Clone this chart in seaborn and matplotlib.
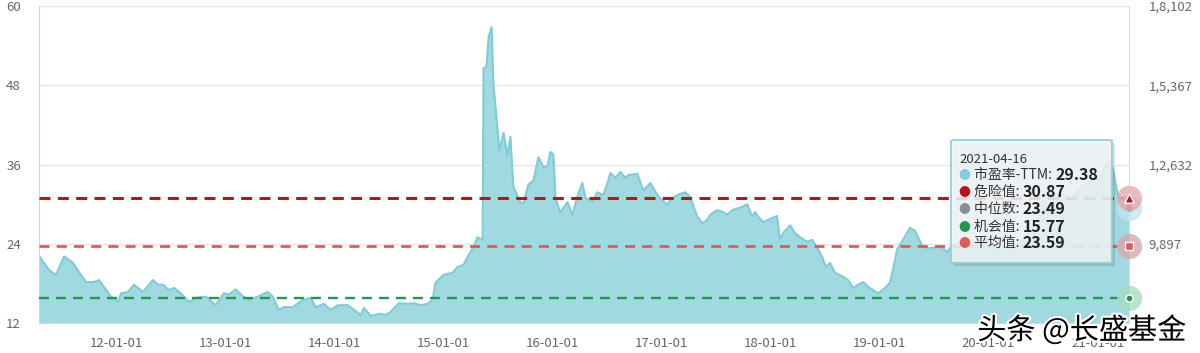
import matplotlib
matplotlib.use("Agg")
import numpy as np
import pandas as pd
import matplotlib.pyplot as plt
import matplotlib.dates as mdates
import matplotlib.patheffects as pe
from matplotlib.patches import FancyBboxPatch, Rectangle
import seaborn as sns

# ----------------------------
# data
# ----------------------------
dates = [
    "2011-04-18", "2011-05-22", "2011-06-14", "2011-07-11", "2011-08-10", "2011-08-30",
    "2011-09-23", "2011-10-19", "2011-11-05", "2011-11-29", "2011-12-15", "2012-01-08",
    "2012-01-18", "2012-02-10", "2012-03-01", "2012-03-31", "2012-05-04", "2012-05-20",
    "2012-06-06", "2012-06-26", "2012-07-13", "2012-08-05", "2012-09-01", "2012-09-25",
    "2012-10-28", "2012-11-30", "2012-12-27", "2013-01-13", "2013-02-05", "2013-03-01",
    "2013-03-21", "2013-04-20", "2013-05-23", "2013-06-09", "2013-06-29", "2013-07-16",
    "2013-08-15", "2013-09-18", "2013-10-14", "2013-10-31", "2013-11-27", "2013-12-20",
    "2014-01-13", "2014-02-15", "2014-03-31", "2014-04-10", "2014-05-03", "2014-06-05",
    "2014-06-22", "2014-07-09", "2014-08-05", "2014-09-04", "2014-09-24", "2014-10-17",
    "2014-11-10", "2014-11-26", "2014-12-06", "2015-01-02", "2015-02-01", "2015-02-18",
    "2015-03-10", "2015-03-23", "2015-04-12", "2015-04-26", "2015-05-13", "2015-05-16",
    "2015-05-26", "2015-06-02", "2015-06-12", "2015-06-18", "2015-07-02", "2015-07-08",
    "2015-07-22", "2015-08-04", "2015-08-14", "2015-08-24", "2015-09-17", "2015-09-27",
    "2015-10-13", "2015-10-30", "2015-11-16", "2015-12-03", "2015-12-16", "2015-12-26",
    "2016-01-05", "2016-01-12", "2016-01-28", "2016-02-21", "2016-03-09", "2016-03-25",
    "2016-04-11", "2016-04-21", "2016-05-15", "2016-05-31", "2016-06-20", "2016-07-04",
    "2016-07-14", "2016-07-31", "2016-08-16", "2016-09-02", "2016-09-12", "2016-10-12",
    "2016-11-01", "2016-11-25", "2016-12-18", "2016-12-28", "2017-01-21", "2017-01-31",
    "2017-02-23", "2017-03-22", "2017-04-07", "2017-05-01", "2017-05-18", "2017-06-03",
    "2017-06-13", "2017-07-07", "2017-07-27", "2017-08-09", "2017-08-26", "2017-09-28",
    "2017-10-15", "2017-11-01", "2017-11-11", "2017-11-21", "2017-12-08", "2018-01-07",
    "2018-01-23", "2018-02-02", "2018-02-12", "2018-03-08", "2018-03-25", "2018-04-10",
    "2018-05-04", "2018-05-20", "2018-06-06", "2018-06-23", "2018-07-06", "2018-07-20",
    "2018-08-05", "2018-09-01", "2018-09-18", "2018-10-05", "2018-10-21", "2018-11-07",
    "2018-11-24", "2018-12-10", "2018-12-27", "2019-01-20", "2019-02-05", "2019-02-15",
    "2019-03-01", "2019-03-21", "2019-04-13", "2019-04-30", "2019-05-10", "2019-05-27",
    "2019-06-19", "2019-07-13", "2019-08-02", "2019-08-15", "2019-09-01", "2019-09-28",
    "2019-10-31", "2019-12-03", "2020-01-01", "2020-02-03", "2020-02-10", "2020-03-01",
    "2020-03-19", "2020-04-10", "2020-05-07", "2020-06-10", "2020-07-03", "2020-07-30",
    "2020-09-01", "2020-10-04", "2020-11-06", "2020-12-09", "2021-01-11", "2021-02-08",
    "2021-02-20", "2021-03-09", "2021-03-25", "2021-04-16",
]
pe_ttm = [
    22.2, 20.0, 19.3, 22.1, 21.1, 19.7,
    18.2, 18.2, 18.5, 17.0, 16.0, 15.2,
    16.5, 16.7, 17.8, 16.7, 18.5, 17.8,
    17.8, 17.0, 17.3, 16.5, 15.2, 15.8,
    16.0, 14.7, 16.5, 16.3, 17.1, 16.0,
    15.5, 16.0, 16.7, 16.0, 14.0, 14.4,
    14.4, 15.5, 15.8, 14.4, 14.9, 14.0,
    14.7, 14.7, 13.2, 14.3, 13.1, 13.4,
    13.2, 13.7, 15.0, 14.9, 15.0, 14.7,
    14.9, 15.5, 18.1, 19.3, 19.6, 20.5,
    20.8, 22.0, 23.5, 25.0, 24.6, 50.6,
    50.8, 55.3, 56.8, 48.3, 41.2, 38.2,
    40.8, 37.4, 40.2, 32.6, 30.2, 30.2,
    32.9, 33.6, 37.1, 35.6, 35.8, 37.9,
    37.5, 31.0, 28.7, 30.3, 28.4, 31.1,
    33.2, 31.0, 30.3, 31.8, 31.4, 33.2,
    34.7, 34.0, 34.9, 34.0, 34.4, 34.6,
    32.1, 33.2, 31.4, 30.9, 29.9, 30.6,
    31.4, 31.8, 31.1, 28.1, 27.1, 27.6,
    28.4, 29.1, 28.8, 28.4, 29.1, 29.6,
    30.0, 28.1, 28.8, 28.1, 27.3, 27.9,
    28.2, 24.6, 25.6, 26.8, 25.6, 25.0,
    24.3, 24.6, 23.5, 22.0, 20.5, 21.1,
    19.6, 19.0, 18.5, 17.3, 17.8, 18.2,
    17.5, 17.0, 16.5, 17.3, 18.1, 20.0,
    23.1, 24.6, 26.4, 26.0, 25.0, 23.5,
    23.3, 23.5, 23.4, 22.7, 23.8, 23.5,
    23.0, 23.8, 25.0, 22.5, 24.5, 25.5,
    22.5, 24.0, 25.0, 27.5, 30.5, 29.5,
    31.5, 30.8, 32.5, 33.5, 34.5, 36.5,
    35.5, 31.5, 30.5, 29.38,
]

danger_val = 30.87
median_val = 23.49
chance_val = 15.77
mean_val = 23.59

left_ticks = [12, 24, 36, 48, 60]
right_ticks = [24, 36, 48, 60]
right_labels = ["9,897", "1,2,632", "1,5,367", "1,8,102"]

tip_date = "2021-04-16"
tip_names = ["市盈率-TTM", "危险值", "中位数", "机会值", "平均值"]
tip_values = [29.38, 30.87, 23.49, 15.77, 23.59]
tip_colors = ["#80ccd8", "#b5121b", "#868e96", "#1e9a50", "#e05a5a"]
watermark = "头条 @长盛基金"

FILL = "#a1d9e0"
LINE = "#80ccd6"
DANGER = "#b8141c"
MEAN = "#e05a5a"
CHANCE = "#1e9a50"
AXIS = "#ccd6eb"
TXT = "#666666"

df = pd.DataFrame({"date": pd.to_datetime(dates), "pe": pe_ttm})

# ----------------------------
# plot
# ----------------------------
sns.set_style("white")
plt.rcParams["font.family"] = ["Noto Sans CJK SC", "DejaVu Sans"]

fig = plt.figure(figsize=(12, 3.53), dpi=100)
ax = fig.add_axes([39 / 1200, 1 - 323 / 353, 1090 / 1200, 317 / 353])

ax.fill_between(df["date"], 12, df["pe"], color=FILL, lw=0, zorder=1)
sns.lineplot(data=df, x="date", y="pe", color=LINE, linewidth=1.5, ax=ax, zorder=2)

ax.axhline(danger_val, color=DANGER, lw=2.2, ls=(0, (3.6, 2.4)), zorder=3)
ax.axhline(mean_val, color=MEAN, lw=2.0, ls=(0, (3.6, 2.6)), zorder=3)
ax.axhline(chance_val, color=CHANCE, lw=1.7, ls=(0, (4.2, 3.0)), zorder=3)

ax.set_xlim(df["date"].iloc[0], df["date"].iloc[-1])
ax.set_ylim(12, 60)
ax.set_yticks(left_ticks)
ax.yaxis.grid(True, color="#e6e6e6", lw=1)
ax.set_axisbelow(True)
ax.xaxis.set_major_locator(mdates.YearLocator())
ax.xaxis.set_major_formatter(mdates.DateFormatter("%y-%m-%d"))
ax.tick_params(axis="x", length=7, width=1, color=AXIS, colors=TXT, labelsize=9.5, pad=3)
ax.tick_params(axis="y", length=0, colors=TXT, labelsize=9.5, pad=13)
for lbl in ax.get_xticklabels():
    lbl.set_color(TXT)
ax.set_xlabel("")
ax.set_ylabel("")
for side in ["left", "bottom"]:
    ax.spines[side].set_color(AXIS)
ax.spines["top"].set_visible(False)
ax.spines["right"].set_color("#d8dde6")

ax2 = ax.twinx()
ax2.set_ylim(12, 60)
ax2.set_yticks(right_ticks)
ax2.set_yticklabels(right_labels)
ax2.tick_params(axis="y", length=0, colors=TXT, labelsize=9.5, pad=14)
for s in ax2.spines.values():
    s.set_visible(False)

# end markers
end = df["date"].iloc[-1]
ax.scatter([end], [tip_values[0]], s=330, color="#bfe6ec", alpha=0.8, lw=0, zorder=5, clip_on=False)
ax.scatter([end], [tip_values[0]], s=22, color="#8a9aa0", lw=0, zorder=6, clip_on=False)
ax.scatter([end], [danger_val], s=330, color="#e5a3a7", alpha=0.75, lw=0, zorder=7, clip_on=False)
ax.scatter([end], [danger_val], s=45, marker="^", color=DANGER, edgecolor="white", lw=1, zorder=8, clip_on=False)
ax.scatter([end], [mean_val], s=330, color="#d4a9ad", alpha=0.8, lw=0, zorder=7, clip_on=False)
ax.scatter([end], [mean_val], s=38, marker="s", color=MEAN, edgecolor="white", lw=1, zorder=8, clip_on=False)
ax.scatter([end], [chance_val], s=330, color="#a9dcc0", alpha=0.8, lw=0, zorder=7, clip_on=False)
ax.scatter([end], [chance_val], s=26, color=CHANCE, edgecolor="white", lw=1, zorder=8, clip_on=False)

# tooltip
W, H = 1200, 353
x0, y0, x1, y1 = 951, 140, 1112, 263
fig.patches.append(Rectangle(((x0 + 3) / W, 1 - (y1 + 3) / H), (x1 - x0) / W, (y1 - y0) / H,
                             transform=fig.transFigure, facecolor="#000000", alpha=0.12, lw=0, zorder=9))
fig.patches.append(FancyBboxPatch((x0 / W, 1 - y1 / H), (x1 - x0) / W, (y1 - y0) / H,
                                  boxstyle="round,pad=0,rounding_size=0.003",
                                  transform=fig.transFigure, facecolor="#eef4f6", alpha=0.88,
                                  edgecolor="#8fd0d8", lw=1.5, zorder=10))
fig.text(959 / W, 1 - 159 / H, tip_date, fontsize=9.5, color="#333333", va="center", zorder=11)
renderer = fig.canvas.get_renderer()
row_y = [175, 192, 209, 227, 243]
for name, val, col, yy in zip(tip_names, tip_values, tip_colors, row_y):
    fig.text(964 / W, 1 - yy / H, "●", fontsize=8.5, color=col, va="center", ha="center", zorder=11)
    t = fig.text(974 / W, 1 - yy / H, name + ": ", fontsize=10, color="#333333", va="center", zorder=11)
    bb = t.get_window_extent(renderer)
    fig.text(bb.x1 / W, 1 - yy / H, f"{val:.2f}", fontsize=11.5, fontweight="bold",
             color="#222222", va="center", zorder=11)

# watermark
fig.text(1186 / W, 1 - 331 / H, watermark, fontsize=21, color="black", ha="right", va="center",
         zorder=12, path_effects=[pe.withStroke(linewidth=3, foreground="white")])

plt.savefig("out.png", dpi=100)
